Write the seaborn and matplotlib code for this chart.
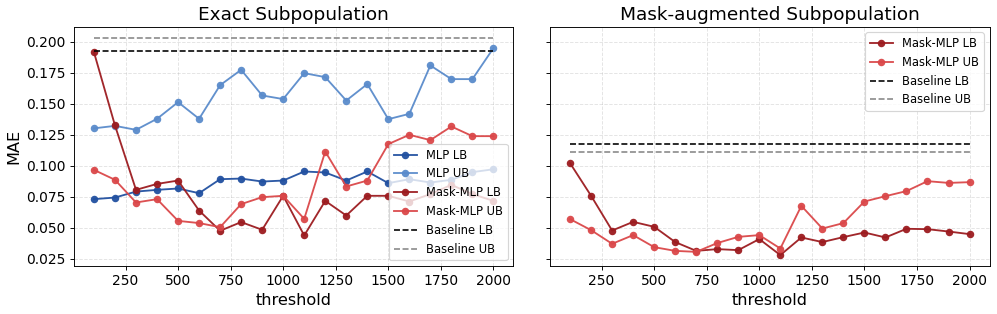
import numpy as np
import matplotlib
matplotlib.use("Agg")
import matplotlib.pyplot as plt
import seaborn as sns

# thresholds shared by every series
thresholds = [100, 200, 300, 400, 500, 600, 700, 800, 900, 1000,
              1100, 1200, 1300, 1400, 1500, 1600, 1700, 1800, 1900, 2000]

# Exact subpopulation
exact_mlp_lb = [0.0729, 0.0742, 0.0790, 0.0804, 0.0815, 0.0777, 0.0890, 0.0895, 0.0871, 0.0879,
                0.0952, 0.0944, 0.0879, 0.0952, 0.0858, 0.0890, 0.0863, 0.0885, 0.0947, 0.0970]
exact_mlp_ub = [0.1300, 0.1320, 0.1288, 0.1377, 0.1511, 0.1377, 0.1648, 0.1772, 0.1565, 0.1536,
                0.1745, 0.1713, 0.1524, 0.1657, 0.1374, 0.1417, 0.1807, 0.1697, 0.1697, 0.1947]
exact_mask_lb = [0.1914, 0.1323, 0.0804, 0.0852, 0.0879, 0.0637, 0.0474, 0.0544, 0.0482, 0.0756,
                 0.0436, 0.0715, 0.0597, 0.0756, 0.0756, 0.0710, 0.0770, 0.0844, 0.0770, 0.0715]
exact_mask_ub = [0.0965, 0.0885, 0.0702, 0.0729, 0.0554, 0.0536, 0.0503, 0.0689, 0.0745, 0.0756,
                 0.0570, 0.1113, 0.0831, 0.0879, 0.1173, 0.1248, 0.1205, 0.1315, 0.1237, 0.1237]
exact_base_lb = 0.1920
exact_base_ub = 0.2032

# Mask-augmented subpopulation
aug_mask_lb = [0.1019, 0.0756, 0.0476, 0.0546, 0.0506, 0.0383, 0.0312, 0.0326, 0.0318, 0.0407,
               0.0278, 0.0420, 0.0383, 0.0423, 0.0460, 0.0420, 0.0490, 0.0487, 0.0468, 0.0447]
aug_mask_ub = [0.0568, 0.0479, 0.0369, 0.0439, 0.0342, 0.0312, 0.0304, 0.0375, 0.0425, 0.0439,
               0.0331, 0.0675, 0.0492, 0.0536, 0.0710, 0.0753, 0.0794, 0.0874, 0.0860, 0.0866]
aug_base_lb = 0.1175
aug_base_ub = 0.1113

colors = {
    "MLP LB": "#2150a0",
    "MLP UB": "#5a8bcb",
    "Mask-MLP LB": "#9c1b1f",
    "Mask-MLP UB": "#da4749",
    "Baseline LB": "#000000",
    "Baseline UB": "#888888",
}


def draw_series(ax, values, name):
    sns.lineplot(x=thresholds, y=values, ax=ax, label=name, color=colors[name],
                 marker="o", markersize=6.5, markeredgewidth=0,
                 linewidth=1.6, alpha=0.95)


def draw_baseline(ax, value, name):
    sns.lineplot(x=thresholds, y=np.full(len(thresholds), value), ax=ax, label=name,
                 color=colors[name], linestyle="--", linewidth=1.4)


fig, axes = plt.subplots(1, 2, figsize=(12, 314 / 83.1), dpi=83.1, sharey=True)
fig.subplots_adjust(left=0.0742, right=0.9923, bottom=0.153, top=0.915, wspace=0.0835)

ax = axes[0]
draw_series(ax, exact_mlp_lb, "MLP LB")
draw_series(ax, exact_mlp_ub, "MLP UB")
draw_series(ax, exact_mask_lb, "Mask-MLP LB")
draw_series(ax, exact_mask_ub, "Mask-MLP UB")
draw_baseline(ax, exact_base_lb, "Baseline LB")
draw_baseline(ax, exact_base_ub, "Baseline UB")
ax.set_title("Exact Subpopulation", fontsize=16)
ax.legend(loc="lower right", fontsize=10)

ax = axes[1]
draw_series(ax, aug_mask_lb, "Mask-MLP LB")
draw_series(ax, aug_mask_ub, "Mask-MLP UB")
draw_baseline(ax, aug_base_lb, "Baseline LB")
draw_baseline(ax, aug_base_ub, "Baseline UB")
ax.set_title("Mask-augmented Subpopulation", fontsize=16)
ax.legend(loc="upper right", fontsize=10)

for ax in axes:
    ax.set_xlabel("threshold", fontsize=14)
    ax.set_ylabel("MAE", fontsize=14)
    ax.tick_params(labelsize=12)
    ax.grid(True, linestyle="--", alpha=0.35)
    ax.set_xticks([250, 500, 750, 1000, 1250, 1500, 1750, 2000])
    ax.set_yticks([0.025, 0.050, 0.075, 0.100, 0.125, 0.150, 0.175, 0.200])
axes[1].tick_params(labelleft=False)

fig.savefig("out.png", dpi=83.1)
